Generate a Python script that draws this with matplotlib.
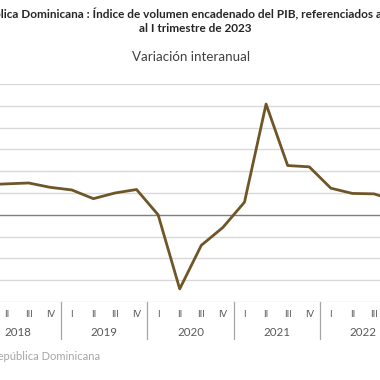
import numpy as np
import matplotlib
matplotlib.use("Agg")
import matplotlib.pyplot as plt

plt.rcParams['font.family'] = ['Lato', 'DejaVu Sans']

# datos: variacion interanual del PIB por trimestre
years = ['2018', '2019', '2020', '2021', '2022']
quarter_names = ['I', 'II', 'III', 'IV']
values = [6.9, 7.1, 7.3, 6.3,
          5.7, 3.7, 5.0, 5.8,
          0.0, -17.0, -7.0, -2.9,
          2.9, 25.4, 11.3, 11.0,
          6.1, 4.9, 4.8, 3.2]
yticks = np.arange(-20, 31, 5)

x = np.arange(len(values))

fig = plt.figure(figsize=(3.8, 3.8), dpi=100)
ax = fig.add_axes([0, 1 - 302/380., 1, 218/380.])

for t in yticks:
    if t == 0:
        ax.axhline(t, color='#7f7f7f', lw=1.0, zorder=1)
    else:
        ax.axhline(t, color='#d9d9d9', lw=1.0, zorder=0)

ax.plot(x, values, color='#6e5628', lw=2.0, zorder=3)

ax.set_xlim(0.676, 0.676 + 380/21.59)
ax.set_ylim(-20, 30)
ax.axis('off')

tr = ax.get_xaxis_transform()
for i in range(len(values)):
    ax.text(i, -0.058, quarter_names[i % 4], transform=tr, ha='center', va='center',
            fontsize=6.8, color='#595959', clip_on=False)
for j, yr in enumerate(years):
    ax.text(j*4 + 1.5, -0.14, yr, transform=tr, ha='center', va='center',
            fontsize=8.3, color='#595959', clip_on=False)
    if j > 0:
        ax.plot([j*4 - 0.5, j*4 - 0.5], [0, -0.17], transform=tr, color='#a6a6a6',
                lw=0.9, clip_on=False)

fig.text(-33/380., 1 - 14/380., 'República Dominicana : Índice de volumen encadenado del PIB, referenciados a 2018',
         ha='left', va='center', fontsize=8.5, fontweight='bold', color='#262626')
fig.text(195/380., 1 - 28/380., 'al I trimestre de 2023',
         ha='center', va='center', fontsize=8.5, fontweight='bold', color='#262626')
fig.text(191/380., 1 - 57/380., 'Variación interanual',
         ha='center', va='center', fontsize=9.6, color='#404040')
fig.text(100/380., 1 - 357/380., 'Fuente: Banco Central de la República Dominicana',
         ha='right', va='center', fontsize=8, color='#a6a6a6')

fig.savefig('out.png', dpi=100)
